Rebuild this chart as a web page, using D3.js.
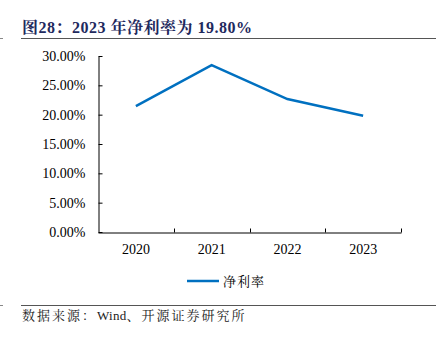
<!DOCTYPE html>
<html><head><meta charset="utf-8">
<script src="https://cdn.jsdelivr.net/npm/d3@7"></script>
<style>body{margin:0;background:#fff}svg{display:block}</style>
</head><body>
<svg id="c" width="436" height="340"></svg>
<script>
const categories = ["2020","2021","2022","2023"];
const netMargin = [21.47, 28.45, 22.66, 19.80];
const yTicks = [0,5,10,15,20,25,30];
const seriesName = "净利率";
const titleText = "图28：2023 年净利率为 19.80%";
const sourceParts = ["数据来源：", "Wind", "、开源证券研究所"];

const svg = d3.select("#c");
const serif = "'Liberation Serif','Times New Roman',serif";
const cjk = "'Liberation Serif','Noto Serif CJK SC','Noto Sans CJK SC',serif";

// title
svg.append("text").attr("x",22).attr("y",33).attr("fill","#1f2a5e")
  .attr("font-family",cjk).attr("font-weight","bold").attr("font-size",16)
  .attr("letter-spacing",0.5).text(titleText);
svg.append("line").attr("x1",21).attr("x2",436).attr("y1",38.5).attr("y2",38.5).attr("stroke","#555").attr("stroke-width",1.2);
svg.append("line").attr("x1",0).attr("x2",3).attr("y1",38.5).attr("y2",38.5).attr("stroke","#888");
svg.append("line").attr("x1",21).attr("x2",436).attr("y1",305.5).attr("y2",305.5).attr("stroke","#555").attr("stroke-width",1.2);
svg.append("line").attr("x1",0).attr("x2",3).attr("y1",305.5).attr("y2",305.5).attr("stroke","#888");
const src = svg.append("text").attr("x",22).attr("y",320).attr("fill","#222")
  .attr("font-family",cjk).attr("font-size",13);
src.selectAll("tspan").data(sourceParts).enter().append("tspan")
  .attr("letter-spacing",(d,i)=>i===1?0.3:2).text(d=>d);

const x = d3.scaleBand().domain(categories).range([98,401]);
const y = d3.scaleLinear().domain([0,30]).range([232,56]);

const g = svg.append("g");
const ya = g.append("g").attr("transform","translate(98.5,0)")
  .call(d3.axisLeft(y).tickValues(yTicks).tickSizeInner(-4).tickSizeOuter(0).tickPadding(13).tickFormat(d=>d.toFixed(2)+"%"));
ya.selectAll("text").attr("font-family",serif).attr("font-size",14).attr("fill","#000");
ya.selectAll("line,path").attr("stroke","#000");

const xa = g.append("g").attr("transform","translate(0,232.5)")
  .call(d3.axisBottom(x).tickSize(0).tickPadding(12));
xa.selectAll("text").attr("font-family",serif).attr("font-size",14).attr("fill","#000");
xa.select("path").attr("stroke","#000");
// band boundary ticks pointing inward
xa.selectAll(".bt").data(categories).enter().append("line")
  .attr("x1",d=>Math.round(x(d)+x.bandwidth())+0.5).attr("x2",d=>Math.round(x(d)+x.bandwidth())+0.5)
  .attr("y1",0).attr("y2",-4).attr("stroke","#000");

const line = d3.line().x((d,i)=>x(categories[i])+x.bandwidth()/2).y(d=>y(d));
g.append("path").datum(netMargin).attr("d",line).attr("fill","none")
  .attr("stroke","#0070c0").attr("stroke-width",2.5);

// legend
svg.append("line").attr("x1",187).attr("x2",219).attr("y1",281).attr("y2",281).attr("stroke","#0070c0").attr("stroke-width",2.5);
svg.append("text").attr("x",223).attr("y",286).attr("font-family",cjk).attr("font-size",13)
  .attr("letter-spacing",1).attr("fill","#000").text(seriesName);
</script>
</body></html>
